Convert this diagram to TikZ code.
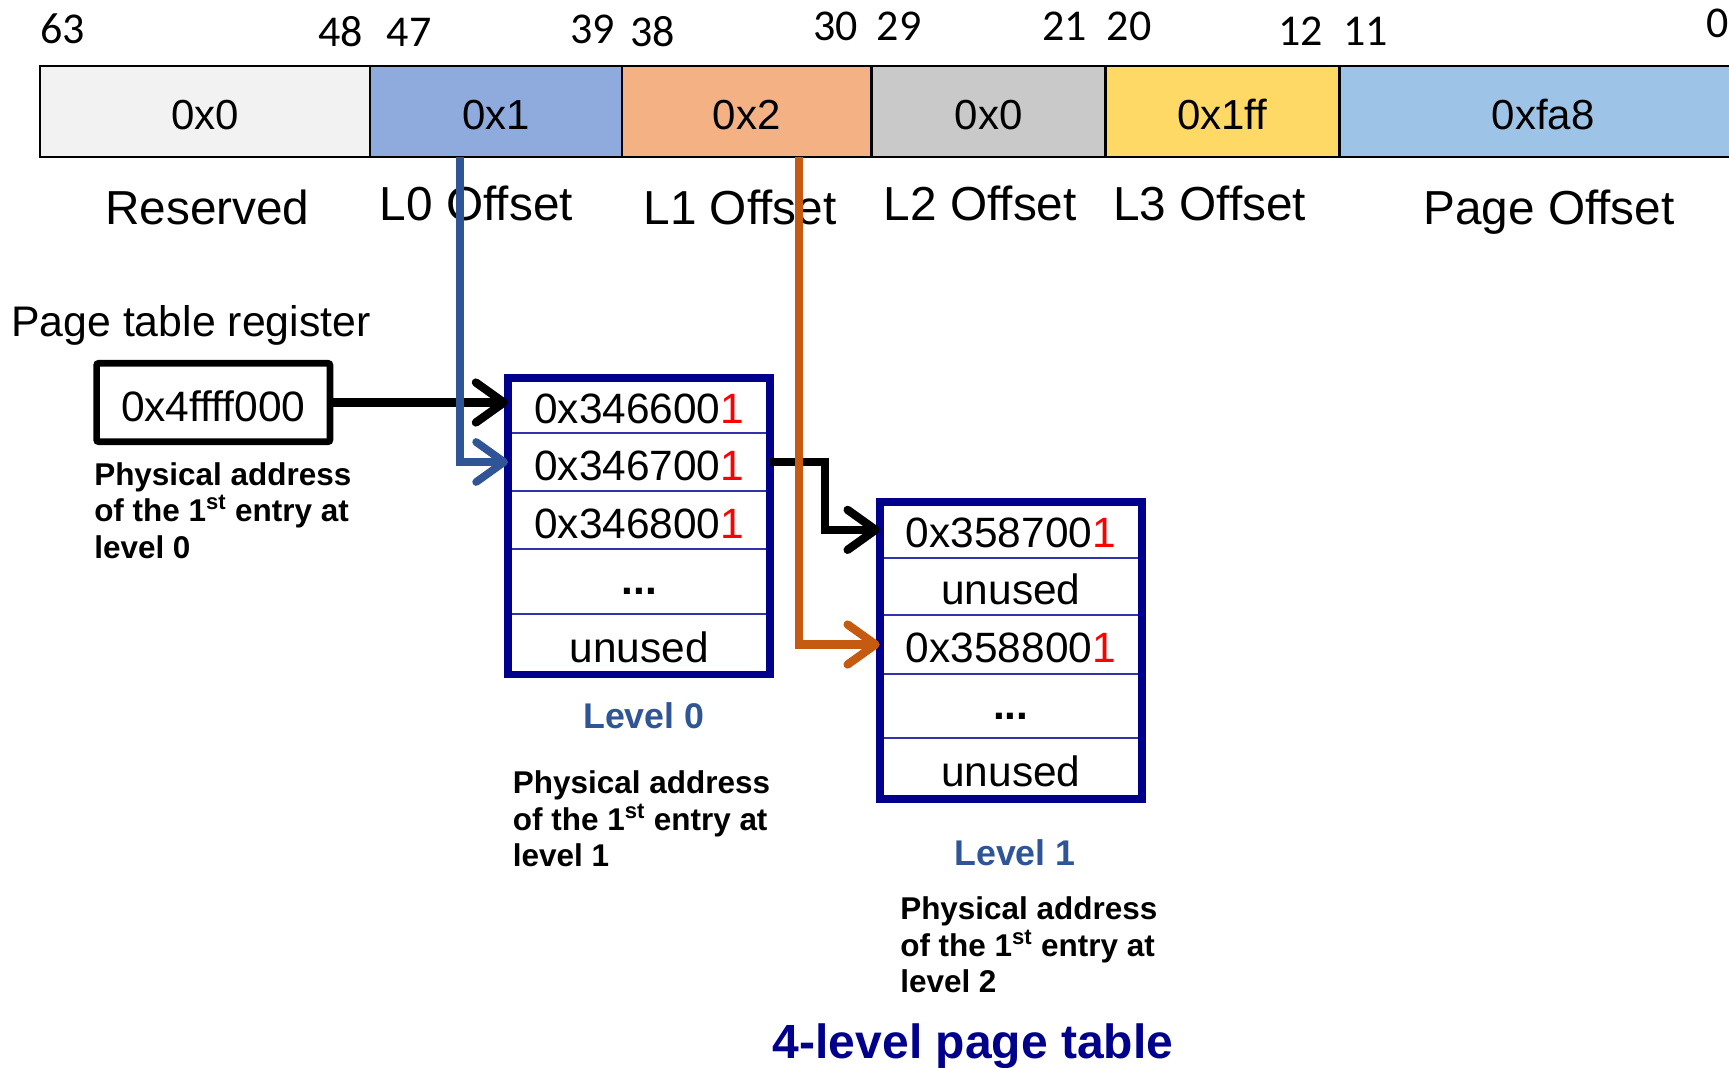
\documentclass[tikz,border=0pt]{standalone}
\usepackage{fontspec}
\setmainfont{Liberation Sans}
\newfontfamily\bitfont{Carlito}
\usetikzlibrary{arrows.meta}

\definecolor{resgray}{RGB}{242,242,242}
\definecolor{lzeroblue}{RGB}{143,170,220}
\definecolor{loneorange}{RGB}{244,177,131}
\definecolor{ltwogray}{RGB}{201,201,201}
\definecolor{lthreeyellow}{RGB}{255,217,102}
\definecolor{pageblue}{RGB}{157,195,230}
\definecolor{tblnavy}{RGB}{0,0,140}
\definecolor{rowline}{RGB}{50,50,170}
\definecolor{lvlblue}{RGB}{47,85,151}
\definecolor{pteorange}{RGB}{197,90,17}

\begin{document}
\begin{tikzpicture}[x=0.75pt,y=0.75pt,yscale=-1,xscale=1,
    field/.style={draw, line width=1.9pt, minimum height=68.25pt, inner sep=0pt, outer sep=0pt, text height=27.5pt, text depth=0pt, font=\fontsize{31.5}{36}\selectfont},
    bitno/.style={inner sep=0pt, font=\bitfont\fontsize{33}{38}\selectfont},
    fieldname/.style={inner sep=0pt, anchor=base, font=\fontsize{35.8}{40}\selectfont},
    entry/.style={draw=rowline, line width=1.5pt, fill=white, minimum width=196.7pt, inner sep=0pt, outer sep=0pt, text height=27pt, text depth=0pt, font=\fontsize{31.8}{36}\selectfont},
    tblframe/.style={draw=tblnavy, line width=5.8pt},
    note/.style={inner sep=0pt, anchor=north west, align=left, font=\bfseries\fontsize{23.6}{27.5}\selectfont},
    lvl/.style={inner sep=0pt, anchor=base, text=lvlblue, font=\bfseries\fontsize{26.8}{32}\selectfont},
    link/.style={line width=6.2pt, -{Straight Barb[length=21pt,width=30pt,round]}},
  ]
  \useasboundingbox (0,0) rectangle (1729,1068);

  %Shape: Virtual address fields
  \node [field, fill=resgray, minimum width=247.5pt] (f0) at (205,111.5) {0x0};
  \node [field, fill=lzeroblue, minimum width=189pt] (f1) at (496,111.5) {0x1};
  \node [field, fill=loneorange, minimum width=187.1pt] (f2) at (746.75,111.5) {0x2};
  \node [field, fill=ltwogray, minimum width=175.5pt] (f3) at (988.5,111.5) {0x0};
  \node [field, fill=lthreeyellow, minimum width=175.35pt] (f4) at (1222.4,111.5) {0x1ff};
  \node [field, fill=pageblue, minimum width=305.8pt] (f5) at (1543.15,111.5) {0xfa8};

  % Text Node: bit positions
  \node [bitno, anchor=base] (b63) at (62.8,43.3) {63};
  \node [bitno, anchor=base east] (b48) at (363.3,46) {48};
  \node [bitno, anchor=base west] (b47) at (386.7,46) {47};
  \node [bitno, anchor=base east] (b39) at (615,43.5) {39};
  \node [bitno, anchor=base west] (b38) at (630,46) {38};
  \node [bitno, anchor=base east] (b30) at (858,40) {30};
  \node [bitno, anchor=base west] (b29) at (876.6,40) {29};
  \node [bitno, anchor=base east] (b21) at (1087.3,40) {21};
  \node [bitno, anchor=base west] (b20) at (1106.7,40) {20};
  \node [bitno, anchor=base east] (b12) at (1323.3,45) {12};
  \node [bitno, anchor=base west] (b11) at (1343,45) {11};
  \node [bitno, anchor=base west] (b0) at (1706.7,37.3) {0};

  % Text Node: field names
  \node [fieldname] (nres) at (207.3,224.5) {Reserved};
  \node [fieldname] (nl0) at (476.4,220) {L0 Offset};
  \node [fieldname] (nl1) at (740,224.5) {L1 Offset};
  \node [fieldname] (nl2) at (980.3,220) {L2 Offset};
  \node [fieldname] (nl3) at (1209.7,220) {L3 Offset};
  \node [fieldname] (npage) at (1549,224.5) {Page Offset};

  % Text Node
  \node [inner sep=0pt, anchor=base west, font=\fontsize{32.1}{36}\selectfont] (ptrlabel) at (11,336) {Page table register};
  %Shape: Rectangle
  \node [draw, line width=5pt, rounded corners=1.5pt, minimum width=175pt, minimum height=58.8pt, inner sep=0pt, text height=27.8pt, text depth=0pt, font=\fontsize{31.9}{36}\selectfont] (ptr) at (213.3,402.5) {0x4ffff000};
  % Text Node
  \node [note] (note0) at (94,462) {Physical address\\of the 1\textsuperscript{st} entry at\\level 0};

  %Shape: Level 0 table
  \node [entry, minimum height=41.5pt] (l0r1) at (639.15,405.65) {0x346600\textcolor{red}{1}};
  \node [entry, minimum height=43.05pt] (l0r2) at (639.15,462) {0x346700\textcolor{red}{1}};
  \node [entry, minimum height=43.95pt] (l0r3) at (639.15,520) {0x346800\textcolor{red}{1}};
  \node [entry, minimum height=48.5pt, text height=20pt] (l0r4) at (639.15,581.65) {\textbf{...}};
  \node [entry, minimum height=45.4pt] (l0r5) at (639.15,644.25) {unused};
  \draw [tblframe] (l0r1.north west) rectangle (l0r5.south east);
  % Text Node
  \node [lvl] (lvl0) at (643.8,728.3) {Level 0};
  % Text Node
  \node [note] (note1) at (512.7,770.3) {Physical address\\of the 1\textsuperscript{st} entry at\\level 1};

  %Shape: Level 1 table
  \node [entry, minimum height=42.2pt] (l1r1) at (1010.85,529.85) {0x358700\textcolor{red}{1}};
  \node [entry, minimum height=42.75pt] (l1r2) at (1010.85,586.5) {unused};
  \node [entry, minimum height=44.25pt] (l1r3) at (1010.85,644.5) {0x358800\textcolor{red}{1}};
  \node [entry, minimum height=48.2pt, text height=20pt] (l1r4) at (1010.85,706.15) {\textbf{...}};
  \node [entry, minimum height=45.4pt] (l1r5) at (1010.85,768.55) {unused};
  \draw [tblframe] (l1r1.north west) rectangle (l1r5.south east);
  % Text Node
  \node [lvl] (lvl1) at (1015,865) {Level 1};
  % Text Node
  \node [note] (note2) at (900,896.3) {Physical address\\of the 1\textsuperscript{st} entry at\\level 2};

  % Text Node
  \node [inner sep=0pt, anchor=base west, text=tblnavy, font=\bfseries\fontsize{36}{42}\selectfont] (title) at (772.7,1058.3) {4-level page table};

  % Straight Lines
  \coordinate (tap0) at (460,157);
  \coordinate (tap1) at (799.3,157);
  \draw [link] (ptr.east) -- (ptr.east -| l0r1.west);
  \draw [link, draw=lvlblue, line width=5.8pt] (tap0) |- (l0r2.west);
  \draw [link] (l0r2.east) -- ++(54.7,0) |- (l1r1.west);
  \draw [link, draw=pteorange, line width=6.2pt] (tap1) |- (l1r3.west);

\end{tikzpicture}
\end{document}
